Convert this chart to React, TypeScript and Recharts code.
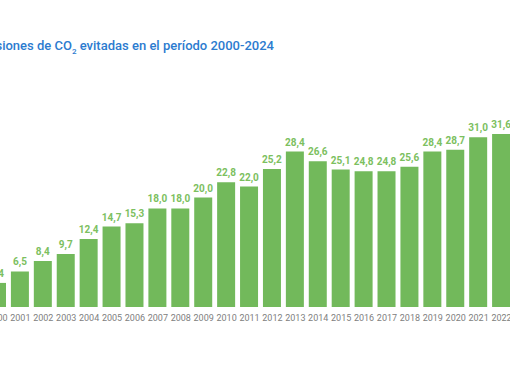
import { BarChart, Bar, XAxis, YAxis, LabelList } from "recharts"

const years = [
  "2000", "2001", "2002", "2003", "2004", "2005", "2006", "2007", "2008", "2009", "2010", "2011",
  "2012", "2013", "2014", "2015", "2016", "2017", "2018", "2019", "2020", "2021", "2022",
]
const avoided = [
  4.4, 6.5, 8.4, 9.7, 12.4, 14.7, 15.3, 18.0, 18.0, 20.0, 22.8, 22.0,
  25.2, 28.4, 26.6, 25.1, 24.8, 24.8, 25.6, 28.4, 28.7, 31.0, 31.6,
]

const data = years.map((year, i) => ({ year, value: avoided[i] }))

const fmt = (v: any) => Number(v).toFixed(1).replace(".", ",")

export default function App() {
  return (
    <div
      style={{
        position: "fixed",
        left: 0,
        top: 0,
        width: 510,
        height: 382,
        overflow: "hidden",
        background: "#fff",
      }}
    >
      <div
        style={{
          position: "absolute",
          right: 236,
          top: 38,
          whiteSpace: "nowrap",
          fontFamily: "Roboto, sans-serif",
          fontSize: 13,
          fontWeight: 500,
          color: "#2c7bcf",
          textAlign: "right",
        }}
      >
        Emisiones de CO<sub style={{ fontSize: 8 }}>2</sub> evitadas en el período 2000-2024
      </div>
      <div style={{ position: "absolute", left: -14.5, top: 0 }}>
        <BarChart
          width={527}
          height={382}
          data={data}
          margin={{ top: 88, right: 0, left: 0, bottom: 45 }}
        >
          <XAxis
            dataKey="year"
            axisLine={false}
            tickLine={false}
            interval={0}
            height={30}
            tick={{ fontSize: 9, fill: "#808080", fontFamily: "Roboto, sans-serif" }}
          />
          <YAxis hide domain={[0, 40]} />
          <Bar dataKey="value" fill="#72b95b" barSize={18} isAnimationActive={false}>
            <LabelList
              dataKey="value"
              position="top"
              offset={6}
              formatter={fmt}
              style={{ fontSize: 10, fontWeight: 700, fill: "#7cc060", fontFamily: "Roboto, sans-serif" }}
            />
          </Bar>
        </BarChart>
      </div>
    </div>
  )
}
